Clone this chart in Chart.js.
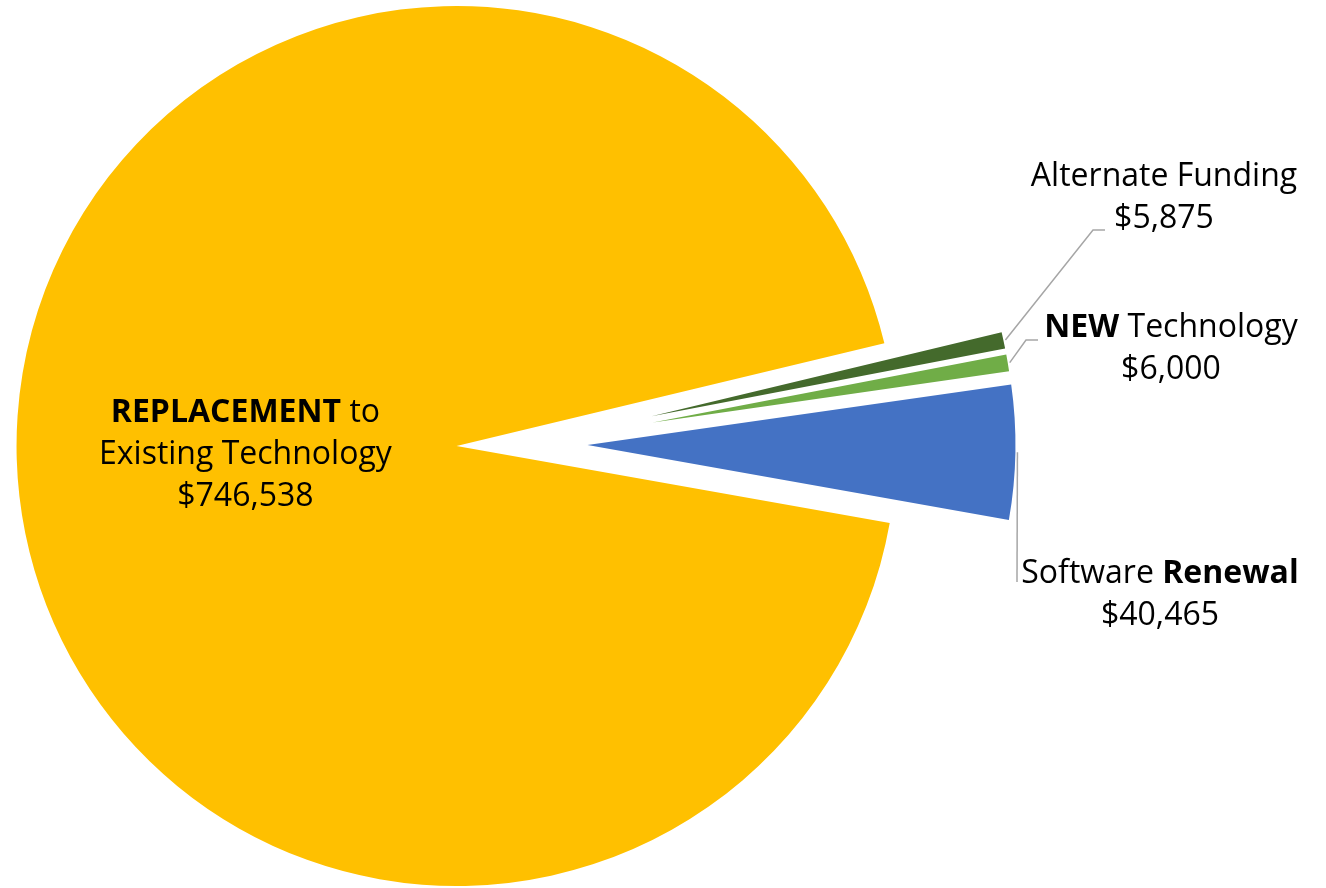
<!DOCTYPE html>
<html>
<head>
<meta charset="utf-8">
<script src="https://cdn.jsdelivr.net/npm/chart.js@4.4.1/dist/chart.umd.min.js"></script>
<style>
  html, body { margin: 0; padding: 0; background: #fff; }
</style>
</head>
<body>
<canvas id="budget" width="1326" height="888"></canvas>
<script>
var categories = ["Alternate Funding", "NEW Technology", "Software Renewal", "REPLACEMENT to Existing Technology"];
var amounts = [5875, 6000, 40465, 746538];
// label lines per slice, **word** is drawn bold
var labelLines = [
    ["Alternate Funding"],
    ["**NEW** Technology"],
    ["Software **Renewal**"],
    ["**REPLACEMENT** to", "Existing Technology"]
];
var sliceColors = ["#446A2C", "#70AD47", "#4472C4", "#FFC000"];

var FONT = '"Open Sans", "Noto Sans", sans-serif';
var FONT_SIZE = 32;
var LINE_H = 42;

// excel style explosion: how far each slice is pulled out and its radius
var explodeBy = [131, 131, 64, 67];
var sliceRadius = [360, 360, 428, 440];

// where the outside labels sit and how their leader lines bend
var labelPlaces = [
    {x: 1164, y: 186, leader: [[1093, 230], [1105, 230]]},
    {x: 1171, y: 337, leader: [[1026, 340], [1038, 340]]},
    {x: 1160, y: 583, leader: [[1017, 582]]},
    {inside: 0.48}
];

function money(v) {
    return "$" + v.toLocaleString("en-US");
}

var explode = {
    id: "explode",
    afterDatasetUpdate: function(chart, args, opts) {
        args.meta.data.forEach(function(arc, i) {
            var mid = (arc.startAngle + arc.endAngle) / 2;
            arc.x += Math.cos(mid) * opts.distance[i];
            arc.y += Math.sin(mid) * opts.distance[i];
            arc.outerRadius = opts.radius[i];
        });
    }
};

function runs(line) {
    return line.split("**").map(function(s, k) { return {text: s, bold: k % 2 == 1}; })
        .filter(function(r) { return r.text.length; });
}

function drawLine(ctx, line, cx, y) {
    var parts = runs(line);
    var w = 0;
    parts.forEach(function(r) {
        ctx.font = (r.bold ? "bold " : "") + FONT_SIZE + "px " + FONT;
        r.w = ctx.measureText(r.text).width;
        w += r.w;
    });
    var x = cx - w / 2;
    parts.forEach(function(r) {
        ctx.font = (r.bold ? "bold " : "") + FONT_SIZE + "px " + FONT;
        ctx.fillText(r.text, x, y);
        x += r.w;
    });
}

var sliceLabels = {
    id: "sliceLabels",
    afterDatasetsDraw: function(chart) {
        var ctx = chart.ctx;
        var meta = chart.getDatasetMeta(0);
        ctx.save();
        ctx.fillStyle = "#000";
        ctx.textAlign = "left";
        ctx.textBaseline = "alphabetic";
        meta.data.forEach(function(arc, i) {
            var mid = (arc.startAngle + arc.endAngle) / 2;
            var lines = labelLines[i].concat([money(amounts[i])]);
            var place = labelPlaces[i];
            if (place.inside) {
                var cx = arc.x + Math.cos(mid) * arc.outerRadius * place.inside;
                var cy = arc.y + Math.sin(mid) * arc.outerRadius * place.inside;
                var y0 = cy - (lines.length - 1) / 2 * LINE_H + FONT_SIZE * 0.36;
                lines.forEach(function(l, k) { drawLine(ctx, l, cx, y0 + k * LINE_H); });
                return;
            }
            ctx.strokeStyle = "#A6A6A6";
            ctx.lineWidth = 1.5;
            ctx.beginPath();
            ctx.moveTo(arc.x + Math.cos(mid) * (arc.outerRadius + 2), arc.y + Math.sin(mid) * (arc.outerRadius + 2));
            place.leader.forEach(function(pt) { ctx.lineTo(pt[0], pt[1]); });
            ctx.stroke();
            lines.forEach(function(l, k) { drawLine(ctx, l, place.x, place.y + k * LINE_H); });
        });
        ctx.restore();
    }
};

new Chart(document.getElementById("budget"), {
    type: "pie",
    data: {
        labels: categories,
        datasets: [{
            data: amounts,
            backgroundColor: sliceColors,
            borderWidth: 0,
            hoverOffset: 0
        }]
    },
    options: {
        responsive: false,
        animation: false,
        events: [],
        rotation: 76.5,
        radius: 440,
        layout: {padding: {left: 0, right: 279, top: 0, bottom: 0}},
        plugins: {
            legend: {display: false},
            tooltip: {enabled: false},
            explode: {distance: explodeBy, radius: sliceRadius}
        }
    },
    plugins: [explode, sliceLabels]
});
</script>
</body>
</html>
